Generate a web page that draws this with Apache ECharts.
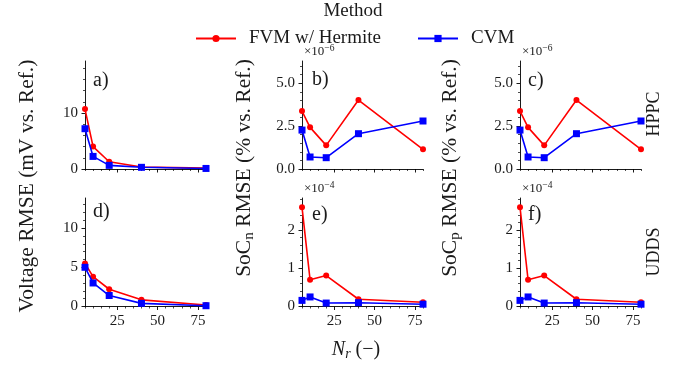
<!DOCTYPE html>
<html>
<head>
<meta charset="utf-8">
<script src="https://cdn.jsdelivr.net/npm/echarts@6/dist/echarts.min.js"></script>
<style>html,body{margin:0;padding:0;background:#fff}#c{width:681px;height:365px}</style>
</head>
<body>
<div id="c"></div>
<script>
// ---- data ----
const nr = [5, 10, 20, 40, 80];
const voltHppcFvm = [10.7, 4.0, 1.3, 0.35, 0.15];
const voltHppcCvm = [7.2, 2.25, 0.65, 0.3, 0.1];
const voltUddsFvm = [5.5, 3.8, 2.2, 0.85, 0.2];
const voltUddsCvm = [5.0, 3.0, 1.4, 0.4, 0.1];
// x 1e-6
const socnHppcFvm = [3.38, 2.43, 1.38, 4.02, 1.15];
const socnHppcCvm = [2.27, 0.70, 0.66, 2.06, 2.80];
const socpHppcFvm = [3.38, 2.43, 1.38, 4.02, 1.15];
const socpHppcCvm = [2.27, 0.70, 0.66, 2.06, 2.80];
// x 1e-4
const socnUddsFvm = [2.60, 0.70, 0.81, 0.19, 0.11];
const socnUddsCvm = [0.16, 0.25, 0.09, 0.10, 0.06];
const socpUddsFvm = [2.60, 0.70, 0.81, 0.19, 0.11];
const socpUddsCvm = [0.16, 0.25, 0.09, 0.10, 0.06];

const xMajor = [25, 50, 75];
const xMinor = [5, 10, 15, 20, 30, 35, 40, 45, 55, 60, 65, 70, 80];
const yMajorVoltHppc = [0, 10];
const yMinorVoltHppc = [2, 4, 6, 8, 12, 14, 16, 18];
const yMajorVoltUdds = [0, 5, 10];
const yMinorVoltUdds = [1, 2, 3, 4, 6, 7, 8, 9, 11, 12, 13];
const yMajorSocHppc = [0, 2.5, 5.0];
const yMinorSocHppc = [0.5, 1, 1.5, 2, 3, 3.5, 4, 4.5, 5.5, 6];
const yMajorSocUdds = [0, 1, 2];
const yMinorSocUdds = [0.2, 0.4, 0.6, 0.8, 1.2, 1.4, 1.6, 1.8, 2.2, 2.4, 2.6, 2.8];

const seriesNames = ['FVM w/ Hermite', 'CVM'];
const panelLetters = ['a)', 'b)', 'c)', 'd)', 'e)', 'f)'];

// ---- layout ----
const FONT = 'Liberation Serif';
const TXT = '#1a1a1a';
const colLeft = [85, 302, 520];
const rowTop = [61, 198];
const rowH = [108, 108.5];
const W = 121;

const panels = [
  {fvm: voltHppcFvm, cvm: voltHppcCvm, ymax: 19.3, maj: yMajorVoltHppc, min: yMinorVoltHppc, fmt: v => String(v), mult: null},
  {fvm: socnHppcFvm, cvm: socnHppcCvm, ymax: 6.3, maj: yMajorSocHppc, min: yMinorSocHppc, fmt: v => v.toFixed(1), mult: '6'},
  {fvm: socpHppcFvm, cvm: socpHppcCvm, ymax: 6.3, maj: yMajorSocHppc, min: yMinorSocHppc, fmt: v => v.toFixed(1), mult: '6'},
  {fvm: voltUddsFvm, cvm: voltUddsCvm, ymax: 13.84, maj: yMajorVoltUdds, min: yMinorVoltUdds, fmt: v => String(v), mult: null},
  {fvm: socnUddsFvm, cvm: socnUddsCvm, ymax: 2.84, maj: yMajorSocUdds, min: yMinorSocUdds, fmt: v => String(v), mult: '4'},
  {fvm: socpUddsFvm, cvm: socpUddsCvm, ymax: 2.84, maj: yMajorSocUdds, min: yMinorSocUdds, fmt: v => String(v), mult: '4'}
];

const grid = [], xAxis = [], yAxis = [], series = [];
const axLine = {show: true, onZero: false, lineStyle: {color: '#000', width: 0.9}};
panels.forEach((p, i) => {
  const r = Math.floor(i / 3), c = i % 3;
  grid.push({left: colLeft[c], top: rowTop[r], width: W, height: rowH[r]});
});
// main axes
panels.forEach((p, i) => {
  const r = Math.floor(i / 3);
  xAxis.push({
    type: 'value', gridIndex: i, min: 5, max: 80,
    axisLine: axLine,
    axisTick: {show: true, customValues: xMajor, length: 3.5, lineStyle: {color: '#000', width: 0.9}},
    axisLabel: {show: r === 1, customValues: xMajor, margin: 7, fontSize: 15, fontFamily: FONT, color: TXT},
    splitLine: {show: false}
  });
  yAxis.push({
    type: 'value', gridIndex: i, min: 0, max: p.ymax, position: 'left',
    axisLine: axLine,
    axisTick: {show: true, customValues: p.maj, length: 3.5, lineStyle: {color: '#000', width: 0.9}},
    axisLabel: {show: true, customValues: p.maj, margin: 7, fontSize: 15, fontFamily: FONT, color: TXT, formatter: p.fmt},
    splitLine: {show: false}
  });
});
// minor tick axes
panels.forEach((p, i) => {
  xAxis.push({
    type: 'value', gridIndex: i, min: 5, max: 80, position: 'bottom',
    axisLine: {show: false, onZero: false},
    axisTick: {show: true, customValues: xMinor, length: 2, lineStyle: {color: '#000', width: 0.7}},
    axisLabel: {show: false}, splitLine: {show: false}
  });
  yAxis.push({
    type: 'value', gridIndex: i, min: 0, max: p.ymax, position: 'left',
    axisLine: {show: false, onZero: false},
    axisTick: {show: true, customValues: p.min, length: 2, lineStyle: {color: '#000', width: 0.7}},
    axisLabel: {show: false}, splitLine: {show: false}
  });
});
// series
panels.forEach((p, i) => {
  series.push({
    name: seriesNames[0], type: 'line', xAxisIndex: i, yAxisIndex: i,
    data: nr.map((x, k) => [x, p.fvm[k]]),
    color: '#ff0000', symbol: 'circle', symbolSize: 6,
    lineStyle: {width: 1.6, color: '#ff0000'}, itemStyle: {color: '#ff0000'},
    animation: false, z: 2
  });
  series.push({
    name: seriesNames[1], type: 'line', xAxisIndex: i, yAxisIndex: i,
    data: nr.map((x, k) => [x, p.cvm[k]]),
    color: '#0000ff', symbol: 'rect', symbolSize: 7,
    lineStyle: {width: 1.6, color: '#0000ff'}, itemStyle: {color: '#0000ff'},
    animation: false, z: 3
  });
});

function txt(x, y, text, size, opts) {
  opts = opts || {};
  return {
    type: 'text', x: x, y: y, rotation: opts.rot || 0, z: 10,
    style: Object.assign({
      text: text, fontSize: size, fontFamily: FONT, fill: TXT,
      align: opts.align || 'center', verticalAlign: 'middle',
      textAlign: opts.align || 'center', textVerticalAlign: 'middle'
    }, opts.style || {})
  };
}

const letterPos = [[93, 81], [312, 80], [528, 81], [93, 212], [312, 215], [528, 215]];
const graphic = [];
panelLetters.forEach((l, i) => graphic.push(txt(letterPos[i][0], letterPos[i][1], l, 20, {align: 'left'})));
// offset multipliers
const richMult = {
  x: {fontSize: 13, fontFamily: FONT, fill: TXT},
  s: {fontSize: 9.5, fontFamily: FONT, fill: TXT, padding: [0, 0, 7, 0]}
};
panels.forEach((p, i) => {
  if (!p.mult) return;
  const r = Math.floor(i / 3), c = i % 3;
  graphic.push(txt(colLeft[c] + 2, rowTop[r] - 9, '{x|×10}{s|−' + p.mult + '}', 13, {align: 'left', style: {rich: richMult}}));
});
graphic.push(txt(353, 11, 'Method', 19));
graphic.push(txt(27, 186, 'Voltage RMSE (mV vs. Ref.)', 21.5, {rot: Math.PI / 2}));
const richY = {
  m: {fontSize: 21.5, fontFamily: FONT, fill: TXT},
  s: {fontSize: 15, fontFamily: FONT, fill: TXT, padding: [10, 0, 0, 0]}
};
graphic.push(txt(244, 168, '{m|SoC}{s|n}{m| RMSE (% vs. Ref.)}', 21.5, {rot: Math.PI / 2, style: {rich: richY}}));
graphic.push(txt(450, 168, '{m|SoC}{s|p}{m| RMSE (% vs. Ref.)}', 21.5, {rot: Math.PI / 2, style: {rich: richY}}));
graphic.push(txt(356, 350, '{i|N}{s|r}{m| (−)}', 20, {style: {rich: {
  i: {fontSize: 20, fontFamily: FONT, fontStyle: 'italic', fill: TXT},
  s: {fontSize: 14, fontFamily: FONT, fontStyle: 'italic', fill: TXT, padding: [9, 0, 0, 0]},
  m: {fontSize: 20, fontFamily: FONT, fill: TXT}
}}}));
graphic.push(txt(654, 114, 'HPPC', 18, {rot: Math.PI / 2}));
graphic.push(txt(654, 252, 'UDDS', 18, {rot: Math.PI / 2}));

const legendBase = {
  top: 24, itemWidth: 40, itemHeight: 9, orient: 'horizontal',
  textStyle: {fontSize: 19, fontFamily: FONT, color: TXT, padding: [0, 0, 0, 8]},
  selectedMode: false
};
const chart = echarts.init(document.getElementById('c'), null, {renderer: 'canvas'});
chart.setOption({
  backgroundColor: '#fff',
  animation: false,
  grid: grid, xAxis: xAxis, yAxis: yAxis, series: series,
  legend: [
    Object.assign({}, legendBase, {left: 190, data: [seriesNames[0]]}),
    Object.assign({}, legendBase, {left: 412, data: [seriesNames[1]]})
  ],
  graphic: graphic
});
</script>
</body>
</html>
